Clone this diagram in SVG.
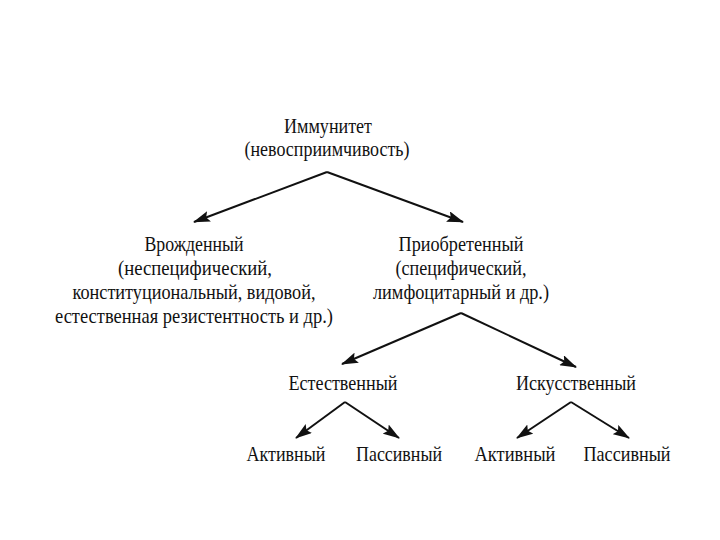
<svg xmlns="http://www.w3.org/2000/svg" width="720" height="540" viewBox="0 0 720 540">
<style>
text{font-family:"Liberation Serif","Times New Roman",serif;font-size:21px;fill:#111;text-anchor:middle}
.c line{stroke:#111;stroke-width:2;marker-end:url(#ah)}
</style>
<defs>
<marker id="ah" markerUnits="userSpaceOnUse" markerWidth="18" markerHeight="11" refX="16" refY="5.5" orient="auto">
<path d="M0,0 L17,5.5 L0,11 L3,5.5 Z" fill="#111"/>
</marker>
</defs>
<rect width="720" height="540" fill="#fff"/>
<g id="root">
<text x="328" y="133" textLength="88" lengthAdjust="spacingAndGlyphs">Иммунитет</text>
<text x="327" y="156" textLength="165" lengthAdjust="spacingAndGlyphs">(невосприимчивость)</text>
</g>
<g id="innate">
<text x="194" y="251" textLength="99" lengthAdjust="spacingAndGlyphs">Врожденный</text>
<text x="195" y="275" textLength="154" lengthAdjust="spacingAndGlyphs">(неспецифический,</text>
<text x="194" y="299" textLength="243" lengthAdjust="spacingAndGlyphs">конституциональный, видовой,</text>
<text x="194" y="323" textLength="278" lengthAdjust="spacingAndGlyphs">естественная резистентность и др.)</text>
</g>
<g id="acquired">
<text x="461" y="251" textLength="125" lengthAdjust="spacingAndGlyphs">Приобретенный</text>
<text x="461" y="275" textLength="131" lengthAdjust="spacingAndGlyphs">(специфический,</text>
<text x="461" y="299" textLength="176" lengthAdjust="spacingAndGlyphs">лимфоцитарный и др.)</text>
</g>
<g id="natural">
<text x="343" y="390" textLength="109" lengthAdjust="spacingAndGlyphs">Естественный</text>
</g>
<g id="artificial">
<text x="576" y="390" textLength="120" lengthAdjust="spacingAndGlyphs">Искусственный</text>
</g>
<g id="nat-active"><text x="286" y="461" textLength="79" lengthAdjust="spacingAndGlyphs">Активный</text></g>
<g id="nat-passive"><text x="399" y="461" textLength="86" lengthAdjust="spacingAndGlyphs">Пассивный</text></g>
<g id="art-active"><text x="515" y="461" textLength="81" lengthAdjust="spacingAndGlyphs">Активный</text></g>
<g id="art-passive"><text x="627" y="461" textLength="87" lengthAdjust="spacingAndGlyphs">Пассивный</text></g>
<g id="connectors" class="c">
<line x1="327" y1="172" x2="194" y2="222"/>
<line x1="327" y1="172" x2="463" y2="222"/>
<line x1="461" y1="313" x2="342" y2="364"/>
<line x1="461" y1="313" x2="576" y2="367"/>
<line x1="345" y1="402" x2="296" y2="438"/>
<line x1="345" y1="402" x2="399" y2="438"/>
<line x1="571" y1="402" x2="517" y2="438"/>
<line x1="571" y1="402" x2="629" y2="438"/>
</g>
</svg>
